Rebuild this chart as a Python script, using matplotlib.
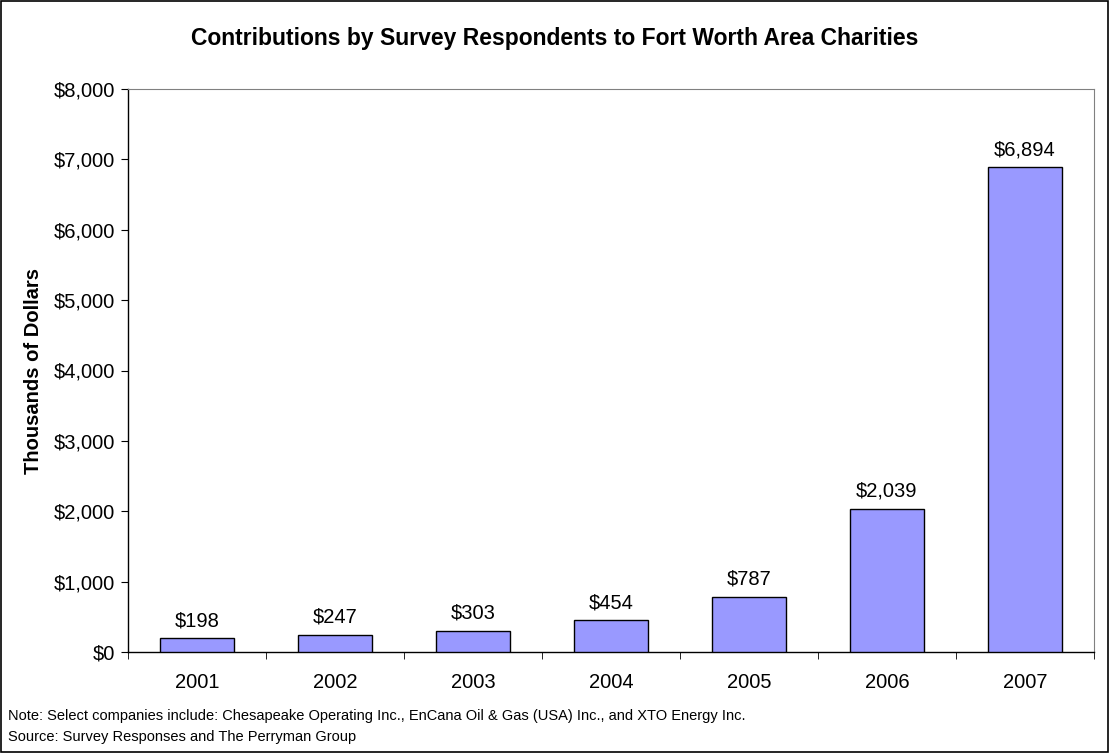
import matplotlib
matplotlib.use("Agg")
import matplotlib.pyplot as plt
from matplotlib.ticker import FuncFormatter, MultipleLocator
import numpy as np

plt.rcParams['font.family'] = ['Liberation Sans', 'DejaVu Sans']

years = ['2001', '2002', '2003', '2004', '2005', '2006', '2007']
contributions = [198, 247, 303, 454, 787, 2039, 6894]

fig = plt.figure(figsize=[11.09, 7.53], dpi=100)
ax = fig.add_axes([128 / 1109, 1 - 652 / 753, (1094 - 128) / 1109, (652 - 89) / 753])

x = np.arange(len(years))
ax.bar(x, contributions, width=0.53, color='#9999FF', edgecolor='black', linewidth=1.0, zorder=3)

for xi, v in zip(x, contributions):
    ax.text(xi, v + 110, '${:,}'.format(v), ha='center', va='bottom', fontsize=14.5)

ax.set_xlim(-0.5, len(years) - 0.5)
ax.set_ylim(0, 8000)
ax.yaxis.set_major_locator(MultipleLocator(1000))
ax.yaxis.set_major_formatter(FuncFormatter(lambda v, p: '${:,.0f}'.format(v)))
ax.set_xticks(x)
ax.set_xticklabels(years)
ax.set_xticks(np.arange(-0.5, len(years)), minor=True)
ax.tick_params(axis='x', which='major', length=0, pad=15, labelsize=14.5)
ax.tick_params(axis='x', which='minor', length=5, direction='out', color='black')
ax.tick_params(axis='y', length=5, direction='out', labelsize=14.5, pad=4)

ax.spines['top'].set_color('#808080')
ax.spines['right'].set_color('#808080')
ax.spines['left'].set_linewidth(1.0)
ax.spines['bottom'].set_linewidth(1.0)

ax.set_ylabel('Thousands of Dollars', fontsize=14.5, fontweight='bold', labelpad=8)

fig.text(0.5, 1 - 38 / 753, 'Contributions by Survey Respondents to Fort Worth Area Charities',
         ha='center', va='center', fontsize=16.5, fontweight='bold')
fig.text(8 / 1109, 1 - 716 / 753, 'Note: Select companies include: Chesapeake Operating Inc., EnCana Oil & Gas (USA) Inc., and XTO Energy Inc.',
         ha='left', va='center', fontsize=10.5)
fig.text(8 / 1109, 1 - 737 / 753, 'Source: Survey Responses and The Perryman Group',
         ha='left', va='center', fontsize=10.5)

fig.patches.append(plt.Rectangle((0.001, 0.001), 0.998, 0.998, transform=fig.transFigure,
                                 fill=False, edgecolor='black', linewidth=1.2))

plt.savefig('out.png', dpi=100)
